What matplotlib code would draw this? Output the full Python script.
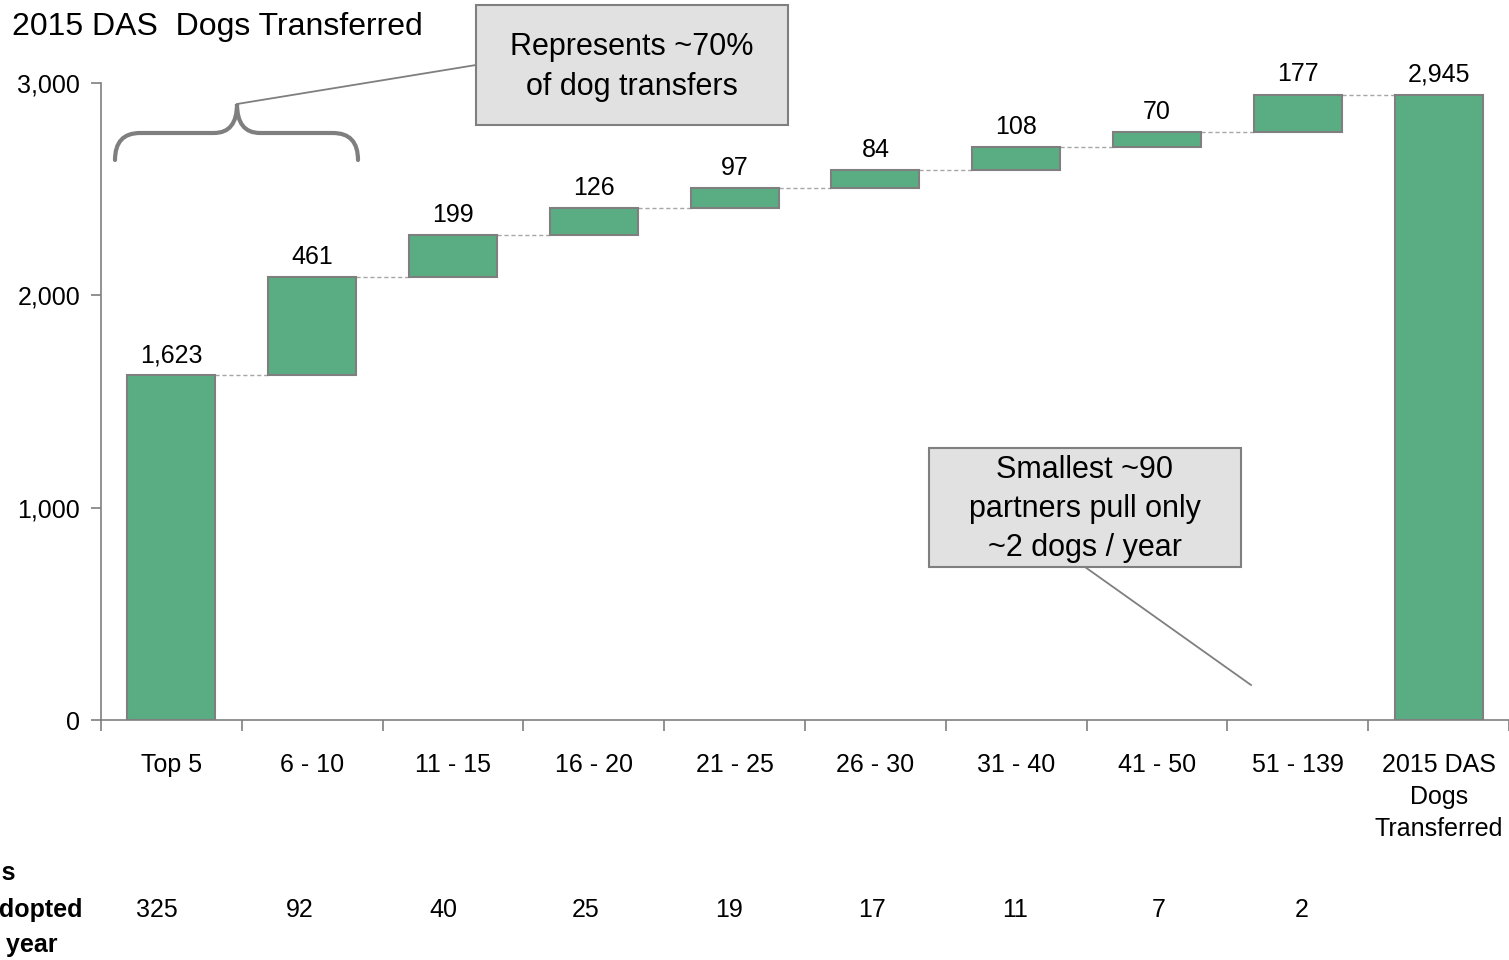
import matplotlib
matplotlib.use("Agg")
import numpy as np
from matplotlib import pyplot as plt
from matplotlib.path import Path
from matplotlib.patches import PathPatch, Rectangle
from matplotlib.lines import Line2D
from matplotlib.transforms import Affine2D
from matplotlib.ticker import FuncFormatter, FixedLocator

plt.rcParams['font.family'] = ['Liberation Sans', 'DejaVu Sans']

# data
categories = ["Top 5", "6 - 10", "11 - 15", "16 - 20", "21 - 25", "26 - 30",
              "31 - 40", "41 - 50", "51 - 139", "2015 DAS\nDogs\nTransferred"]
increments = [1623, 461, 199, 126, 97, 84, 108, 70, 177]
total = 2945
per_partner = [325, 92, 40, 25, 19, 17, 11, 7, 2]

green = "#5aad83"
edge = "#7f7f7f"

fig = plt.figure(figsize=(15.09, 9.6), dpi=100)
ax = fig.add_axes([101 / 1509, 0.25, 1 - 101 / 1509, (720 - 83) / 960])

n = len(categories)
x = np.arange(n)
bottoms = list(np.concatenate([[0], np.cumsum(increments)[:-1]])) + [0]
heights = list(increments) + [total]
tops = [b + h for b, h in zip(bottoms, heights)]
w = 0.625

ax.bar(x, heights, bottom=bottoms, width=w, color=green, edgecolor=edge, linewidth=1.5, zorder=3)

# dashed connectors between steps
for i in range(n - 1):
    level = tops[i]
    ax.plot([x[i] + w / 2, x[i + 1] - w / 2], [level, level], ls=(0, (3, 2)),
            color="#a6a6a6", lw=1.0, zorder=2)

# value labels
labels = increments + [total]
for i in range(n):
    ax.annotate(f"{labels[i]:,}", (x[i], tops[i]), xytext=(0, 6), textcoords="offset points",
                ha="center", va="bottom", fontsize=18)

ax.set_xlim(-0.5, n - 0.5)
ax.set_ylim(0, 3000)
ax.set_yticks([0, 1000, 2000, 3000])
ax.yaxis.set_major_formatter(FuncFormatter(lambda v, p: f"{int(v):,}"))
ax.tick_params(axis="y", labelsize=18, length=7, width=1.2, color=edge, pad=8)

ax.set_xticks(x)
ax.set_xticklabels(categories, fontsize=18, linespacing=1.4)
ax.xaxis.set_minor_locator(FixedLocator(np.arange(-0.5, n, 1.0)))
ax.tick_params(axis="x", which="major", length=0, pad=24)
ax.tick_params(axis="x", which="minor", length=8, width=1.2, color=edge)

for s in ["top", "right"]:
    ax.spines[s].set_visible(False)
for s in ["left", "bottom"]:
    ax.spines[s].set_color(edge)
    ax.spines[s].set_linewidth(1.2)

# bottom row: dogs per partner per year (row is spaced a bit wider than the bars)
for i, v in enumerate(per_partner):
    ax.text(i * 1.0163 - 0.104, -0.298, str(v), transform=ax.get_xaxis_transform(),
            ha="center", va="center", fontsize=18)

# pixel coordinates (origin top-left) -> figure
px = Affine2D().scale(1 / 1509, -1 / 960).translate(0, 1) + fig.transFigure

side = [("Dogs", 16, 873), ("adopted", 83, 910), ("per year", 58, 945)]
for txt, xr, yc in side:
    fig.text(xr, yc, txt, transform=px, ha="right", va="center", fontsize=18, fontweight="bold")

fig.text(12, 27, "2015 DAS  Dogs Transferred", transform=px, ha="left", va="center", fontsize=23)

# brace over the first two bars
verts = [(115, 160), (115, 133), (140, 133), (214, 133), (237, 133), (237, 104),
         (237, 133), (260, 133), (333, 133), (358, 133), (358, 160)]
codes = [Path.MOVETO, Path.CURVE3, Path.CURVE3, Path.LINETO, Path.CURVE3, Path.CURVE3,
         Path.CURVE3, Path.CURVE3, Path.LINETO, Path.CURVE3, Path.CURVE3]
fig.add_artist(PathPatch(Path(verts, codes), transform=px, fill=False, edgecolor=edge, lw=3,
                         capstyle="round"))
fig.add_artist(Line2D([237, 476], [104, 65], transform=px, color=edge, lw=1.3))

# callout boxes
fig.add_artist(Rectangle((476, 125), 312, -120, transform=px, facecolor="#e1e1e1",
                         edgecolor=edge, lw=1.5))
fig.text(632, 67, "Represents ~70%\nof dog transfers", transform=px, ha="center", va="center",
         fontsize=22, linespacing=1.45)

fig.add_artist(Rectangle((929, 567), 312, -119, transform=px, facecolor="#e1e1e1",
                         edgecolor=edge, lw=1.5))
fig.text(1085, 509, "Smallest ~90\npartners pull only\n~2 dogs / year", transform=px,
         ha="center", va="center", fontsize=22, linespacing=1.4)
fig.add_artist(Line2D([1085, 1251], [567, 685], transform=px, color=edge, lw=1.3))

fig.savefig("out.png", dpi=100)
